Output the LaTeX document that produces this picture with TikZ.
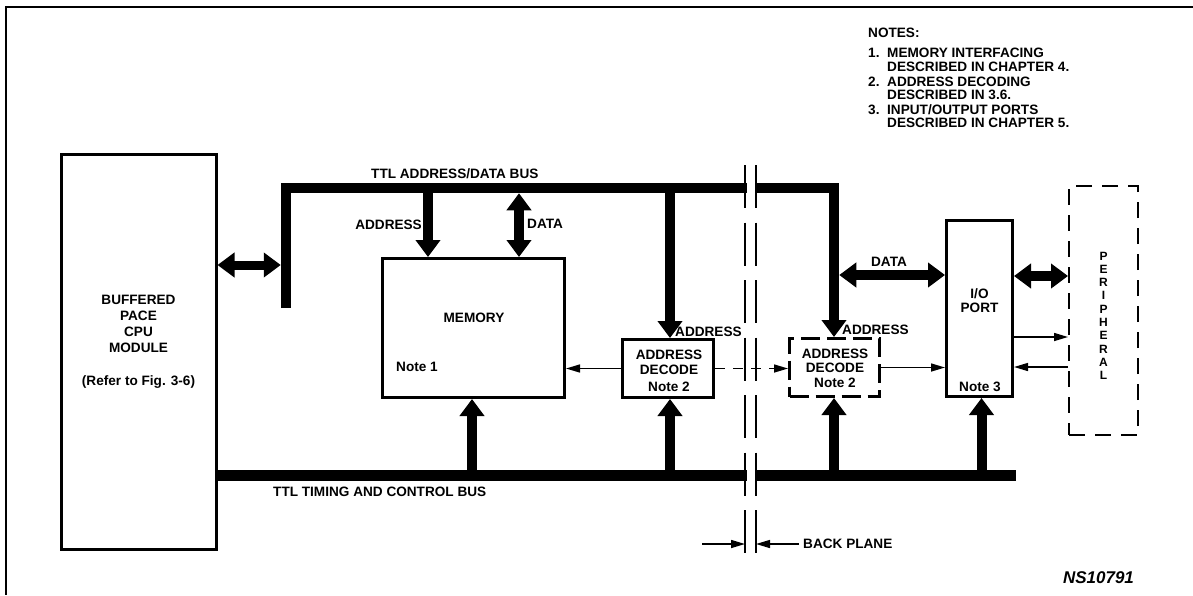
\documentclass[tikz,border=0pt]{standalone}
\usepackage{fontspec}
\setmainfont{Liberation Sans}
\usetikzlibrary{arrows.meta}
\begin{document}
\begin{tikzpicture}[x=1pt,y=-1pt,
  txt/.style={inner sep=0pt, text height=9.7pt, text depth=0pt, font=\fontsize{13.6}{16}\selectfont\bfseries},
  box/.style={draw, line width=3pt, inner sep=0pt},
  busln/.style={line width=10.5pt},
  fatln/.style={line width=10pt},
  thinln/.style={line width=1.5pt},
  bigtip/.tip={Triangle[width=24pt,length=17pt]},
  smalltip/.tip={Triangle[width=8pt,length=14pt]},
  bpline/.style={line width=2pt, dash pattern=on 43pt off 14.5pt}
]
\useasboundingbox (0,0) rectangle (1193,595);
% frame
\draw[line width=2.5pt] (1193,7) -- (6,7) -- (6,595);

% blocks
\node[box, minimum width=155pt, minimum height=395pt] (cpu) at (138.5,351.5) {};
\node[box, minimum width=182pt, minimum height=139pt] (mem) at (473.5,328) {};
\node[box, minimum width=91pt, minimum height=58pt] (dec1) at (668,368.5) {};
\node[box, dash pattern=on 19pt off 7pt, minimum width=90pt, minimum height=58pt] (dec2) at (834.5,367.5) {};
\node[box, minimum width=66pt, minimum height=176pt] (io) at (979.5,308.5) {};
\node[draw, line width=2pt, dash pattern=on 16pt off 10pt, inner sep=0pt, minimum width=69pt, minimum height=249pt] (per) at (1103.5,310.5) {};

% block texts
\node[txt] (cpu1) at (138.5,300) {BUFFERED};
\node[txt] (cpu2) at (138.5,316) {PACE};
\node[txt] (cpu3) at (138.5,332) {CPU};
\node[txt] (cpu4) at (138.5,348) {MODULE};
\node[txt] (cpu5) at (138.5,381) {(Refer to Fig. 3-6)};
\node[txt] (memt) at (474,318) {MEMORY};
\node[txt, anchor=west] (memn) at (396,367) {Note 1};
\node[txt] (d1a) at (669,355) {ADDRESS};
\node[txt] (d1b) at (669,370) {DECODE};
\node[txt] (d1c) at (669,387) {Note 2};
\node[txt] (d2a) at (835,353.5) {ADDRESS};
\node[txt] (d2b) at (835,367.5) {DECODE};
\node[txt] (d2c) at (835,383) {Note 2};
\node[txt] (io1) at (979.5,294) {I/O};
\node[txt] (io2) at (979.5,308) {PORT};
\node[txt] (io3) at (980,386.5) {Note 3};
\node[inner sep=0pt, align=center, font=\fontsize{12}{13.3}\selectfont\bfseries] (pert) at (1103.5,315.8)
  {P\\E\\R\\I\\P\\H\\E\\R\\A\\L};

% address/data bus
\coordinate (busL) at (286,308);
\coordinate (busTL) at (286,188);
\coordinate (busTR) at (834,188);
\draw[busln, -{bigtip}] (busL) -- (busTL) -- (busTR) -- (busTR |- dec2.north);

% CPU <-> bus
\coordinate (yA) at (0,265);
\coordinate (busLedge) at (280.75,265);
\draw[line width=9pt, {bigtip}-{bigtip}] (cpu.east |- yA) -- (busLedge);

% taps to memory and decode 1
\coordinate (tapMA) at (428,188);
\draw[fatln, -{bigtip}] (tapMA) -- (tapMA |- mem.north);
\coordinate (tapMD) at (519,193.25);
\draw[fatln, {bigtip}-{bigtip}] (tapMD) -- (tapMD |- mem.north);
\coordinate (tapD1) at (670,188);
\draw[fatln, -{bigtip}] (tapD1) -- (tapD1 |- dec1.north);

% data to I/O port, I/O to peripheral
\coordinate (tapIOD) at (839.25,275);
\draw[fatln, {bigtip}-{bigtip}] (tapIOD) -- (tapIOD -| io.west);
\coordinate (yP) at (0,276);
\draw[fatln, {bigtip}-{bigtip}] (io.east |- yP) -- (per.west |- yP);

% timing and control bus
\coordinate (tbR) at (1016,475.5);
\draw[line width=11pt] (cpu.east |- tbR) -- (tbR);
\coordinate (tm) at (472,475.5);
\coordinate (td1) at (670,475.5);
\coordinate (td2) at (834,475.5);
\coordinate (tio) at (981.5,475.5);
\draw[fatln, -{bigtip}] (tm) -- (tm |- mem.south);
\draw[fatln, -{bigtip}] (td1) -- (td1 |- dec1.south);
\draw[fatln, -{bigtip}] (td2) -- (td2 |- dec2.south);
\draw[fatln, -{bigtip}] (tio) -- (tio |- io.south);

% thin signal lines
\draw[thinln, -{smalltip}] (dec1.west) -- (dec1.west -| mem.east);
\draw[thinln, dash pattern=on 10pt off 8pt, -{smalltip}] (dec1.east) -- (dec1.east -| dec2.west);
\draw[thinln, -{smalltip}] (dec2.east) -- (dec2.east -| io.west);
\coordinate (yO) at (0,337);
\draw[thinln, -{smalltip}] (io.east |- yO) -- (per.west |- yO);
\coordinate (yI) at (0,367);
\draw[thinln, -{smalltip}] (per.west |- yI) -- (io.east |- yI);

% back plane
\fill[white] (746.5,178) rectangle (754.5,198);
\fill[white] (746.5,467) rectangle (754.5,484);
\coordinate (bp1t) at (745,165);
\coordinate (bp1b) at (745,555);
\coordinate (bp2t) at (756,165);
\coordinate (bp2b) at (756,555);
\draw[bpline] (bp1t) -- (bp1b);
\draw[bpline] (bp2t) -- (bp2b);
\coordinate (bpa) at (702,544);
\coordinate (bpb) at (799,544);
\draw[thinln, -{smalltip}] (bpa) -- (bp1b |- bpa);
\draw[thinln, -{smalltip}] (bpb) -- (bp2b |- bpb);
\node[txt, anchor=west] (bplbl) at (803,544) {BACK PLANE};

% bus labels
\node[txt, anchor=west] (adbus) at (371,174) {TTL ADDRESS/DATA BUS};
\node[txt, anchor=west] (tcbus) at (273,492) {TTL TIMING AND CONTROL BUS};
\node[txt, anchor=east] (la1) at (422,225) {ADDRESS};
\node[txt, anchor=west] (ld1) at (527,224) {DATA};
\node[txt, anchor=west] (la2) at (675,332) {ADDRESS};
\node[txt, anchor=west] (la3) at (842,330) {ADDRESS};
\node[txt] (ld2) at (889,262) {DATA};

% notes
\node[txt, anchor=west] (n0) at (868,33) {NOTES:};
\node[txt, anchor=west] (n1) at (868,53) {1.};
\node[txt, anchor=west] (n1a) at (887,53) {MEMORY INTERFACING};
\node[txt, anchor=west] (n1b) at (887,67) {DESCRIBED IN CHAPTER 4.};
\node[txt, anchor=west] (n2) at (868,82) {2.};
\node[txt, anchor=west] (n2a) at (887,82) {ADDRESS DECODING};
\node[txt, anchor=west] (n2b) at (887,95) {DESCRIBED IN 3.6.};
\node[txt, anchor=west] (n3) at (868,110) {3.};
\node[txt, anchor=west] (n3a) at (887,110) {INPUT/OUTPUT PORTS};
\node[txt, anchor=west] (n3b) at (887,123) {DESCRIBED IN CHAPTER 5.};

% figure number
\node[inner sep=0pt, font=\fontsize{17}{20}\selectfont\bfseries\itshape] (fig) at (1098.5,578) {NS10791};
\end{tikzpicture}
\end{document}
